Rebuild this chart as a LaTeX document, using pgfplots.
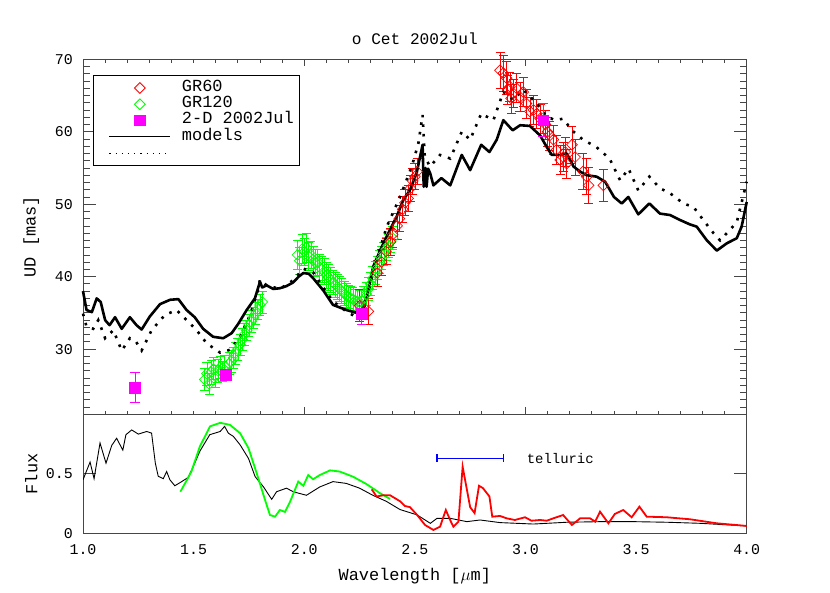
\documentclass[border=0pt]{standalone}
\usepackage{fontspec}
\setmainfont{Liberation Mono}
\usepackage{pgfplots}
\pgfplotsset{compat=1.18}

\definecolor{idlgreen}{RGB}{0,255,0}
\definecolor{idlred}{RGB}{255,0,0}
\definecolor{idlmag}{RGB}{255,0,255}
\definecolor{idlblue}{RGB}{0,0,255}
\definecolor{axgray}{RGB}{70,70,70}

\pgfplotsset{
  idlbox/.style={
    scale only axis, width=663.7bp,
    xmin=1, xmax=4,
    axis line style={axgray, line width=1bp},
    tick style={axgray, line width=0.8bp},
    tick align=inside,
    tick label style={font=\fontsize{15}{15}\selectfont},
    /pgf/number format/assume math mode=true,
    xticklabel style={anchor=center, yshift=-16bp},
    yticklabel style={anchor=east, inner sep=0pt, xshift=-10bp},
  },
  mklegend/.style={legend image code/.code={
    \path[draw=none] (0bp,0bp) -- (70.7bp,0bp);
    \draw plot coordinates {(40.2bp,0bp)};}},
  lnlegend/.style={legend image code/.code={
    \path[draw=none] (0bp,0bp) -- (70.7bp,0bp);
    \draw (9.7bp,0bp) -- (70.7bp,0bp);}},
}

\begin{document}
\begin{tikzpicture}
\useasboundingbox (0,0) rectangle (830bp,593bp);

% ---------- top panel: x ticks only (shorter, as IDL draws them)
\begin{axis}[idlbox, at={(83bp,178.7bp)}, anchor=south west, height=355bp,
  ymin=21, ymax=70, ytick=\empty,
  xtick={1,2,3,4}, xticklabels={}, minor xtick={1.1,1.2,...,3.95},
  major tick length=7bp, minor tick length=3.5bp,
  axis line style={draw=none}]
\end{axis}

% ---------- top panel: data
\begin{axis}[idlbox, at={(83bp,178.7bp)}, anchor=south west, height=355bp,
  ymin=21, ymax=70, clip=false,
  xtick=\empty,
  ytick={30,40,50,60,70}, minor ytick={21,22,...,69},
  major tick length=13bp, minor tick length=6.7bp,
  ylabel={\fontsize{17}{17}\selectfont UD [mas]},
  ylabel style={at={(axis description cs:-0.078,0.5)}, anchor=center},
  title={\fontsize{16.2}{16.2}\selectfont o Cet 2002Jul},
  title style={at={(axis description cs:0.5,1)}, anchor=base, yshift=9bp},
  legend cell align=left,
  legend style={at={(axis description cs:0.0155,0.956)}, anchor=north west,
    draw=black, line width=0.8bp, fill=white,
    inner xsep=6bp, inner ysep=4.5bp, row sep=0bp, column sep=11bp,
    font=\fontsize{17}{17}\selectfont,
    nodes={inner sep=0pt, text height=11.5bp, text depth=4.8bp}},
]
\addlegendimage{mklegend, idlred, line width=0.8bp, mark=square, mark size=3.8bp, mark options={rotate=45}}
\addlegendentry{GR60}
\addlegendimage{mklegend, idlgreen, line width=0.8bp, mark=square, mark size=3.8bp, mark options={rotate=45}}
\addlegendentry{GR120}
\addlegendimage{mklegend, idlmag, mark=square*, mark size=5.3bp}
\addlegendentry{2-D 2002Jul}
\addlegendimage{lnlegend, black, line width=0.8bp}
\addlegendentry{models}
\addlegendimage{lnlegend, black, line width=1.2bp, dash pattern=on 1.2bp off 5bp}
\addlegendentry{}

% GR120
\addplot[only marks, idlgreen, line width=0.7bp, mark=square, mark size=3.8bp, mark options={rotate=45},
  error bars/.cd, y dir=both, y explicit, error bar style={line width=0.7bp},
  error mark options={rotate=90, idlgreen, mark size=4.5bp, line width=0.7bp}]
  table[x=x, y=y, y error=e] {
x y e
1.55 25.8 1.5
1.56 26.6 1.6
1.57 25.2 1.5
1.58 26.8 1.6
1.59 27.3 1.5
1.60 26.2 1.5
1.61 27.0 1.6
1.62 27.5 1.5
1.63 26.9 1.4
1.64 27.6 1.5
1.66 28.0 1.5
1.67 28.3 1.5
1.68 28.8 1.4
1.69 29.4 1.5
1.70 30.0 1.5
1.71 30.6 1.4
1.72 31.3 1.5
1.73 32.0 1.5
1.74 32.6 1.4
1.75 33.3 1.5
1.76 33.8 1.5
1.77 34.3 1.5
1.78 34.9 1.5
1.79 35.5 1.4
1.80 36.1 1.5
1.81 36.5 1.5
1.97 43.0 2.0
1.98 42.2 1.9
1.99 43.8 2.0
2.00 43.4 1.9
2.01 44.0 2.0
2.02 42.8 1.9
2.03 43.0 1.9
2.04 42.4 1.8
2.05 41.9 1.8
2.06 42.0 1.8
2.07 41.3 1.8
2.08 41.0 1.8
2.09 40.7 1.8
2.10 40.2 1.8
2.11 39.9 1.8
2.12 39.6 1.7
2.13 39.2 1.7
2.14 38.9 1.7
2.15 38.6 1.7
2.16 38.3 1.7
2.17 38.0 1.7
2.18 37.7 1.7
2.19 37.4 1.7
2.20 37.2 1.6
2.21 37.0 1.6
2.22 36.9 1.6
2.23 36.7 1.6
2.24 36.6 1.6
2.25 36.5 1.6
2.26 36.6 1.6
2.27 37.0 1.6
2.28 37.6 1.6
2.29 38.3 1.6
2.30 39.0 1.6
2.31 39.8 1.6
2.32 40.5 1.6
2.33 41.2 1.6
2.34 42.0 1.6
2.35 42.6 1.6
2.36 43.2 1.6
2.37 43.8 1.6
2.38 44.3 1.6
2.39 44.9 1.6
2.40 45.3 1.6
};

% GR60
\addplot[only marks, idlred, line width=0.7bp, mark=square, mark size=3.8bp, mark options={rotate=45},
  error bars/.cd, y dir=both, y explicit, error bar style={line width=0.7bp},
  error mark options={rotate=90, idlred, mark size=4.5bp, line width=0.7bp}]
  table[x=x, y=y, y error=e] {
x y e
2.25 36.0 2.2
2.26 35.0 1.6
2.29 35.2 1.8
2.33 40.5 1.8
2.35 42.0 1.8
2.37 43.5 1.8
2.39 44.8 1.8
2.40 45.8 1.8
2.42 47.0 1.8
2.43 48.0 1.8
2.445 49.3 1.8
2.455 50.2 1.8
2.47 50.8 1.8
2.48 52.2 1.8
2.49 53.2 1.8
2.50 53.8 1.8
2.51 54.5 1.8
2.885 68.5 2.5
2.90 68.1 2.5
2.915 67.4 2.3
2.92 65.8 2.0
2.93 66.2 2.0
2.935 64.6 2.0
2.945 65.3 2.0
2.96 66.0 2.0
2.975 64.8 2.0
2.99 65.5 2.0
3.005 63.9 2.0
3.02 62.8 2.0
3.036 63.0 2.0
3.05 62.5 2.0
3.066 61.8 2.0
3.09 61.0 2.0
3.10 60.0 2.0
3.11 59.5 2.0
3.126 58.9 2.0
3.14 57.5 2.0
3.157 56.1 2.0
3.17 56.5 2.0
3.18 57.2 2.0
3.186 55.6 2.0
3.21 58.2 2.5
3.224 56.5 2.5
3.26 54.5 2.5
3.277 53.8 2.5
3.285 52.6 2.5
3.352 52.6 2.2
};

% models
\addplot[black, line width=2.6bp, line join=round] coordinates {
(1.000,38.0) (1.016,35.4) (1.040,35.1) (1.062,37.0) (1.080,36.5) (1.100,34.0)
(1.120,33.3) (1.145,34.4) (1.175,32.8) (1.212,34.4) (1.242,33.3) (1.265,32.7)
(1.302,34.5) (1.348,36.2) (1.393,36.8) (1.431,36.9) (1.468,35.4) (1.505,34.4)
(1.543,32.8) (1.588,31.7) (1.634,31.5) (1.672,32.2) (1.702,33.5) (1.740,35.4)
(1.777,37.0) (1.800,39.3) (1.810,38.5) (1.830,38.8) (1.860,38.3) (1.890,38.4)
(1.920,38.7) (1.950,39.2) (1.975,40.0) (1.996,40.5) (2.020,40.4) (2.040,39.8)
(2.086,38.1) (2.130,36.1) (2.190,35.4) (2.250,34.9) (2.265,35.6) (2.283,37.2)
(2.312,41.4) (2.350,44.1) (2.380,46.0) (2.418,48.3) (2.448,50.6) (2.477,51.9)
(2.508,54.3) (2.535,58.2) (2.540,52.4) (2.548,55.0) (2.553,52.4) (2.560,54.9)
(2.569,54.3) (2.584,52.6) (2.620,53.6) (2.660,52.6) (2.712,56.8) (2.750,54.7)
(2.800,58.2) (2.837,57.2) (2.870,58.9) (2.900,61.6) (2.942,60.2) (2.976,60.9)
(3.020,60.8) (3.066,59.5) (3.096,57.9) (3.119,56.8) (3.157,56.8) (3.187,57.0)
(3.217,55.2) (3.247,54.5) (3.277,54.0) (3.322,53.8) (3.360,53.1) (3.400,51.0)
(3.435,50.1) (3.465,51.0) (3.510,48.6) (3.560,50.1) (3.608,48.7) (3.654,48.5)
(3.700,47.8) (3.744,47.2) (3.774,46.9) (3.820,45.0) (3.865,43.6) (3.910,44.6)
(3.955,45.3) (3.977,46.9) (4.000,50.3)
};
\addplot[black, line width=2.6bp, dash pattern=on 2.6bp off 7bp] coordinates {
(1.000,34.9) (1.016,33.1) (1.046,32.8) (1.069,34.0) (1.100,31.5) (1.137,32.6)
(1.175,29.8) (1.212,31.5) (1.240,31.0) (1.265,29.8) (1.310,32.6) (1.370,34.7)
(1.423,35.4) (1.468,34.0) (1.514,32.6) (1.559,30.8) (1.620,29.5) (1.664,29.9)
(1.710,31.7) (1.755,34.7) (1.790,38.0) (1.800,39.6) (1.830,38.8) (1.890,38.3)
(1.950,39.5) (1.996,41.1) (2.040,40.6) (2.086,38.5) (2.130,36.6) (2.190,35.2)
(2.236,34.4) (2.260,34.9) (2.280,36.5) (2.310,40.5) (2.340,43.6) (2.373,46.9)
(2.433,51.0) (2.486,55.2) (2.516,58.4) (2.535,62.3) (2.545,56.5) (2.569,55.2)
(2.614,56.8) (2.660,56.3) (2.712,60.0) (2.750,58.9) (2.800,62.5) (2.855,61.6)
(2.900,65.5) (2.945,64.4) (2.990,65.8) (3.050,63.9) (3.096,62.1) (3.134,61.6)
(3.170,61.8) (3.210,60.2) (3.260,58.9) (3.320,57.9) (3.380,56.3) (3.428,53.3)
(3.466,54.9) (3.510,51.9) (3.560,53.8) (3.608,52.2) (3.654,51.5) (3.714,50.1)
(3.760,49.6) (3.804,47.8) (3.850,46.0) (3.880,45.0) (3.910,46.0) (3.955,47.5)
(4.000,53.1)
};

% 2-D 2002Jul
\addplot[only marks, idlmag, mark=square*, mark size=5.3bp,
  error bars/.cd, y dir=both, y explicit, error bar style={line width=0.8bp},
  error mark options={rotate=90, idlmag, mark size=4.7bp, line width=0.8bp}]
  table[x=x, y=y, y error=e] {
x y e
1.235 24.7 2.1
1.646 26.5 0.6
2.260 34.9 1.5
3.080 61.6 2.3
};
\end{axis}

% ---------- bottom panel
\begin{axis}[idlbox, at={(83bp,59.7bp)}, anchor=south west, height=118.8bp,
  ymin=0, ymax=1,
  xtick={1,1.5,2,2.5,3,3.5,4}, xticklabels={1.0,1.5,2.0,2.5,3.0,3.5,4.0},
  xtick style={draw=none},
  ytick={0,0.5}, yticklabels={0,0.5},
  major tick length=13bp,
  xlabel={\fontsize{17}{17}\selectfont Wavelength [$\mu$m]},
  xlabel style={at={(axis description cs:0.5,-0.362)}, anchor=center},
  ylabel={\fontsize{17}{17}\selectfont Flux},
  ylabel style={at={(axis description cs:-0.078,0.5)}, anchor=center},
]
\addplot[black, line width=0.9bp] coordinates {
(1.000,0.45) (1.032,0.60) (1.050,0.46) (1.077,0.76) (1.104,0.59) (1.130,0.74)
(1.152,0.80) (1.180,0.70) (1.194,0.83) (1.220,0.87) (1.250,0.835) (1.288,0.857)
(1.310,0.843) (1.327,0.59) (1.340,0.48) (1.363,0.46) (1.378,0.52) (1.393,0.45)
(1.415,0.40) (1.446,0.435) (1.475,0.47) (1.498,0.56) (1.528,0.69) (1.573,0.83)
(1.620,0.857) (1.640,0.90) (1.657,0.843) (1.680,0.815) (1.710,0.745) (1.748,0.63)
(1.778,0.477) (1.815,0.393) (1.853,0.286) (1.875,0.35) (1.920,0.38) (1.950,0.35)
(2.010,0.32) (2.070,0.39) (2.130,0.435) (2.190,0.42) (2.250,0.38) (2.310,0.32)
(2.370,0.27) (2.433,0.20) (2.510,0.155) (2.570,0.084) (2.600,0.126) (2.660,0.126)
(2.735,0.098) (2.795,0.112) (2.885,0.090) (3.036,0.078) (3.187,0.093) (3.340,0.098)
(3.490,0.098) (3.640,0.093) (3.790,0.084) (4.000,0.062)
};
\addplot[idlgreen, line width=1.8bp] coordinates {
(1.440,0.35) (1.470,0.45) (1.490,0.52) (1.528,0.73) (1.574,0.90) (1.620,0.93)
(1.664,0.913) (1.710,0.843) (1.748,0.717) (1.785,0.506) (1.823,0.28) (1.845,0.154)
(1.868,0.14) (1.890,0.196) (1.913,0.18) (1.936,0.266) (1.973,0.435) (1.996,0.40)
(2.018,0.49) (2.040,0.455) (2.070,0.49) (2.117,0.53) (2.160,0.52) (2.220,0.477)
(2.280,0.416) (2.343,0.337) (2.388,0.289)
};
\addplot[idlred, line width=1.8bp] coordinates {
(2.305,0.37) (2.327,0.31) (2.357,0.32) (2.388,0.32) (2.433,0.27) (2.455,0.23)
(2.478,0.22) (2.510,0.155) (2.546,0.07) (2.584,0.028) (2.614,0.056) (2.640,0.196)
(2.660,0.11) (2.674,0.056) (2.697,0.098) (2.716,0.56) (2.750,0.22) (2.770,0.17)
(2.790,0.40) (2.808,0.38) (2.837,0.31) (2.850,0.14) (2.885,0.146) (2.915,0.126)
(2.952,0.112) (2.998,0.135) (3.027,0.106) (3.066,0.112) (3.096,0.106) (3.126,0.126)
(3.170,0.154) (3.210,0.07) (3.247,0.126) (3.292,0.126) (3.315,0.098) (3.337,0.182)
(3.375,0.084) (3.404,0.163) (3.442,0.196) (3.480,0.135) (3.515,0.224) (3.548,0.14)
(3.638,0.135) (3.744,0.118) (3.865,0.084) (4.000,0.062)
};
% telluric band
\addplot[idlblue, line width=1.3bp, mark=|, mark size=4bp] coordinates {(2.6,0.632) (2.9,0.632)};
\node[anchor=west, font=\fontsize{14}{14}\selectfont] at (axis cs:2.99,0.632) {telluric};
\end{axis}
\end{tikzpicture}
\end{document}
